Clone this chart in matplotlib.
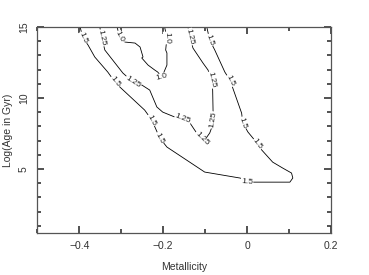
import numpy as np
import matplotlib.pyplot as plt
from matplotlib.ticker import MultipleLocator

# contour level 1.5 (one long line)
x_15 = [-0.398, -0.391, -0.379, -0.363, -0.332, -0.315, -0.303, -0.244, -0.227,
        -0.208, -0.191, -0.101, -0.017, 0.014, 0.102, 0.109, 0.106, 0.085, 0.061,
        0.035, 0.025, 0.014, 0.002, -0.010, -0.013, -0.034, -0.041, -0.053, -0.077,
        -0.089, -0.096]
y_15 = [15.0, 14.23, 13.73, 12.89, 11.83, 11.13, 10.77, 9.15, 8.45,
        7.18, 6.55, 4.79, 4.37, 4.08, 4.08, 4.37, 4.72, 5.07, 5.49,
        6.34, 6.76, 7.18, 7.61, 8.24, 8.94, 10.70, 11.27, 11.83, 13.38,
        14.08, 15.0]

# contour level 1.25
x_125 = [-0.351, -0.346, -0.339, -0.296, -0.272, -0.251, -0.232, -0.215, -0.201,
         -0.172, -0.153, -0.136, -0.125, -0.113, -0.101, -0.089, -0.082, -0.081,
         -0.082, -0.085, -0.093, -0.105, -0.129, -0.136, -0.141]
y_125 = [15.0, 14.23, 13.38, 11.76, 11.13, 10.92, 10.56, 9.37, 9.01,
         8.66, 8.52, 8.24, 7.75, 7.25, 7.04, 7.54, 8.10, 9.01,
         10.56, 11.27, 11.97, 12.46, 13.52, 14.30, 15.0]

# contour level 1.0
x_10 = [-0.310, -0.303, -0.291, -0.267, -0.255, -0.248, -0.251, -0.236, -0.220,
        -0.213, -0.203, -0.196, -0.191, -0.191, -0.194, -0.191, -0.196]
y_10 = [15.0, 14.30, 13.94, 13.87, 13.59, 12.89, 12.82, 12.32, 11.97,
        11.83, 11.48, 11.97, 12.32, 13.17, 13.38, 14.23, 14.93]

# label anchor points (x, y) for each level
lab_15 = [(-0.391, 14.23), (-0.315, 11.13), (-0.227, 8.45), (-0.208, 7.18),
          (0.000, 4.12), (0.025, 6.76), (-0.010, 8.24), (-0.041, 11.20),
          (-0.089, 14.08)]
lab_125 = [(-0.346, 14.23), (-0.272, 11.13), (-0.153, 8.52), (-0.108, 7.15),
           (-0.081, 8.45), (-0.085, 11.27), (-0.136, 14.30)]
lab_10 = [(-0.303, 14.30), (-0.203, 11.48), (-0.191, 14.23)]

plt.rcParams['font.family'] = ['Liberation Sans', 'DejaVu Sans']

fig = plt.figure(figsize=(3.69, 2.75), dpi=100)
ax = fig.add_axes([0.101, 0.1527, 0.796, 0.7491])
ax.set_xlim(-0.5, 0.2)
ax.set_ylim(0.5, 15)

levels = [(x_15, y_15, lab_15, '1.5'), (x_125, y_125, lab_125, '1.25'),
          (x_10, y_10, lab_10, '1.0')]

for xs, ys, labs, txt in levels:
    ax.plot(xs, ys, color='black', lw=0.6)
    pts = ax.transData.transform(np.column_stack([xs, ys]))
    for lx, ly in labs:
        p = ax.transData.transform((lx, ly))
        d = np.hypot(pts[:, 0] - p[0], pts[:, 1] - p[1])
        i = int(np.argmin(d))
        i0, i1 = max(i - 1, 0), min(i + 1, len(xs) - 1)
        dx, dy = pts[i1] - pts[i0]
        ang = np.degrees(np.arctan2(dy, dx))
        if ang > 90:
            ang -= 180
        if ang < -90:
            ang += 180
        ax.text(lx, ly, txt, fontsize=6, rotation=ang, rotation_mode='anchor',
                ha='center', va='center', color='#222222',
                bbox=dict(facecolor='white', edgecolor='none', pad=0.3))

# ticks set up last so nothing above can reset them
ax.set_xticks([-0.4, -0.2, 0, 0.2])
ax.set_xticklabels(['\u22120.4', '\u22120.2', '0', '0.2'])
ax.xaxis.set_minor_locator(MultipleLocator(0.1))
ax.yaxis.set_major_locator(MultipleLocator(5))
ax.yaxis.set_minor_locator(MultipleLocator(1))
ax.tick_params(which='both', direction='in', top=True, right=True,
               color='#333333', width=1.2)
ax.tick_params(which='major', length=5, pad=6, labelsize=7.5, labelcolor='#333333')
ax.tick_params(which='minor', length=3)
for s in ax.spines.values():
    s.set_color('#555555')
    s.set_linewidth(0.9)
plt.setp(ax.get_yticklabels(), rotation=90, va='center')

ax.set_xlabel('Metallicity', fontsize=7.5, color='#333333', labelpad=8)
ax.set_ylabel('Log(Age in Gyr)', fontsize=7.5, color='#333333', labelpad=4)

fig.savefig('out.png', dpi=100)
